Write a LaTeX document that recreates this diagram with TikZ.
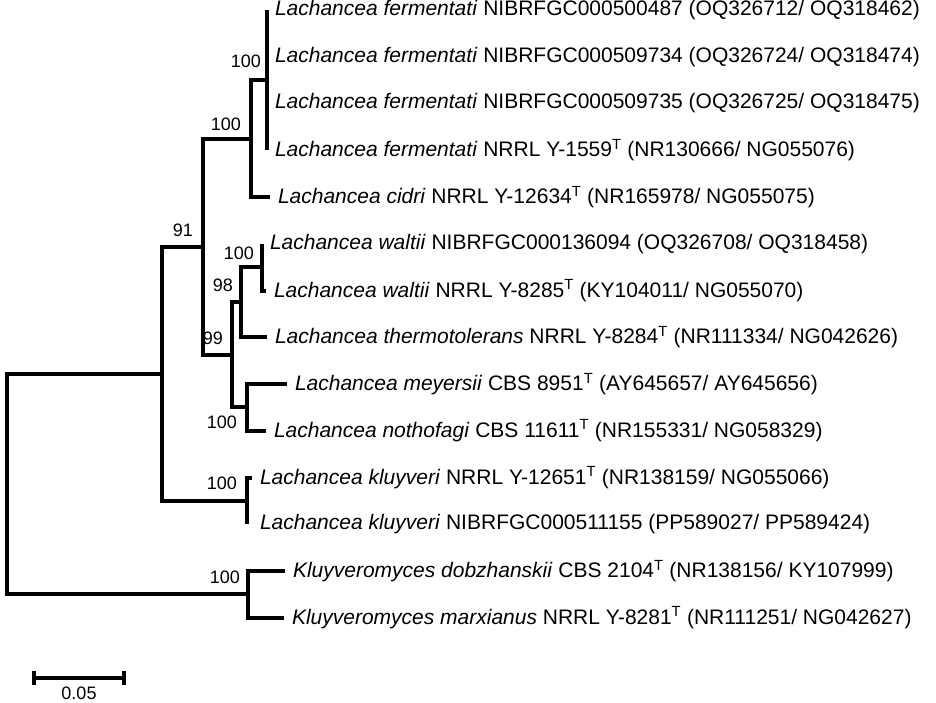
\documentclass[tikz,border=0pt]{standalone}
\usepackage{fontspec}
\setmainfont{Liberation Sans}
\usetikzlibrary{positioning}

\begin{document}
\begin{tikzpicture}[x=1pt, y=-1pt, line width=4pt,
	branch/.style={line join=miter},
	leaf/.style={anchor=west, inner xsep=6pt, inner ysep=0pt, font=\fontsize{21}{24}\selectfont},
	boot/.style={inner sep=0pt, font=\fontsize{18}{21}\selectfont}]
	\useasboundingbox (0,0) rectangle (936,703);
	
	% internal nodes
	\coordinate (R) at (7,484.1);
	\coordinate (A) at (162,373.8);
	\coordinate (B) at (203,246.7);
	\coordinate (C) at (251,138.6);
	\coordinate (D) at (267,80.1);
	\coordinate (E) at (232,354.8);
	\coordinate (F) at (241,302.2);
	\coordinate (G) at (262,267.1);
	\coordinate (H) at (247,407.4);
	\coordinate (K) at (247,500.9);
	\coordinate (M) at (248,594.4);
	
	% tips
	\coordinate (f1) at (267,10);
	\coordinate (f2) at (267,56.75);
	\coordinate (f3) at (267,103.5);
	\coordinate (f4) at (267,150.25);
	\coordinate (cid) at (270,197);
	\coordinate (wa1) at (262,243.75);
	\coordinate (wa2) at (266,290.5);
	\coordinate (the) at (267,337.25);
	\coordinate (mey) at (287,384);
	\coordinate (not) at (266,430.75);
	\coordinate (kl1) at (252,477.5);
	\coordinate (kl2) at (247,524.25);
	\coordinate (dob) at (285,571);
	\coordinate (mar) at (284,617.75);
	
	\foreach \p/\c in {R/A, R/M, A/B, A/K, B/C, B/E, C/D, C/cid, D/f1, D/f2, D/f3, D/f4,
		E/F, E/H, F/G, F/the, G/wa1, G/wa2, H/mey, H/not, K/kl1, K/kl2, M/dob, M/mar}
	\draw[branch] (\p) |- (\c);
	
	% taxa
	\node[leaf] (t1) at (f1) {\textit{Lachancea fermentati} NIBRFGC000500487 (OQ326712/ OQ318462)};
	\node[leaf] (t2) at (f2) {\textit{Lachancea fermentati} NIBRFGC000509734 (OQ326724/ OQ318474)};
	\node[leaf] (t3) at (f3) {\textit{Lachancea fermentati} NIBRFGC000509735 (OQ326725/ OQ318475)};
	\node[leaf] (t4) at (f4) {\textit{Lachancea fermentati} NRRL Y-1559\textsuperscript{T} (NR130666/ NG055076)};
	\node[leaf] (t5) at (cid) {\textit{Lachancea cidri} NRRL Y-12634\textsuperscript{T} (NR165978/ NG055075)};
	\node[leaf] (t6) at (wa1) {\textit{Lachancea waltii} NIBRFGC000136094 (OQ326708/ OQ318458)};
	\node[leaf] (t7) at (wa2) {\textit{Lachancea waltii} NRRL Y-8285\textsuperscript{T} (KY104011/ NG055070)};
	\node[leaf] (t8) at (the) {\textit{Lachancea thermotolerans} NRRL Y-8284\textsuperscript{T} (NR111334/ NG042626)};
	\node[leaf] (t9) at (mey) {\textit{Lachancea meyersii} CBS 8951\textsuperscript{T} (AY645657/ AY645656)};
	\node[leaf] (t10) at (not) {\textit{Lachancea nothofagi} CBS 11611\textsuperscript{T} (NR155331/ NG058329)};
	\node[leaf] (t11) at (kl1) {\textit{Lachancea kluyveri} NRRL Y-12651\textsuperscript{T} (NR138159/ NG055066)};
	\node[leaf, xshift=5pt] (t12) at (kl2) {\textit{Lachancea kluyveri} NIBRFGC000511155 (PP589027/ PP589424)};
	\node[leaf] (t13) at (dob) {\textit{Kluyveromyces dobzhanskii} CBS 2104\textsuperscript{T} (NR138156/ KY107999)};
	\node[leaf] (t14) at (mar) {\textit{Kluyveromyces marxianus} NRRL Y-8281\textsuperscript{T} (NR111251/ NG042627)};
	
	% bootstrap values
	\node[boot, above left=10pt and 4pt of D] (bD) {100};
	\node[boot, above left=6pt and 8pt of C] (bC) {100};
	\node[boot, above left=8pt and 8pt of B] (bB) {91};
	\node[boot, above left=5pt and 6pt of G] (bG) {100};
	\node[boot, above left=9pt and 6pt of F] (bF) {98};
	\node[boot, above left=8pt and 7pt of E] (bE) {99};
	\node[boot, below left=7pt and 8pt of H] (bH) {100};
	\node[boot, above left=9pt and 8pt of K] (bK) {100};
	\node[boot, above left=9pt and 6pt of M] (bM) {100};
	
	% scale bar
	\coordinate (sL) at (34,678);
	\coordinate (sR) at (124,678);
	\draw (sL) -- (sR);
	\draw ([yshift=7pt]sL) -- ([yshift=-7pt]sL);
	\draw ([yshift=7pt]sR) -- ([yshift=-7pt]sR);
	\node[boot, below=7pt of sL, xshift=45pt] (sbl) {0.05};
\end{tikzpicture}
\end{document}
